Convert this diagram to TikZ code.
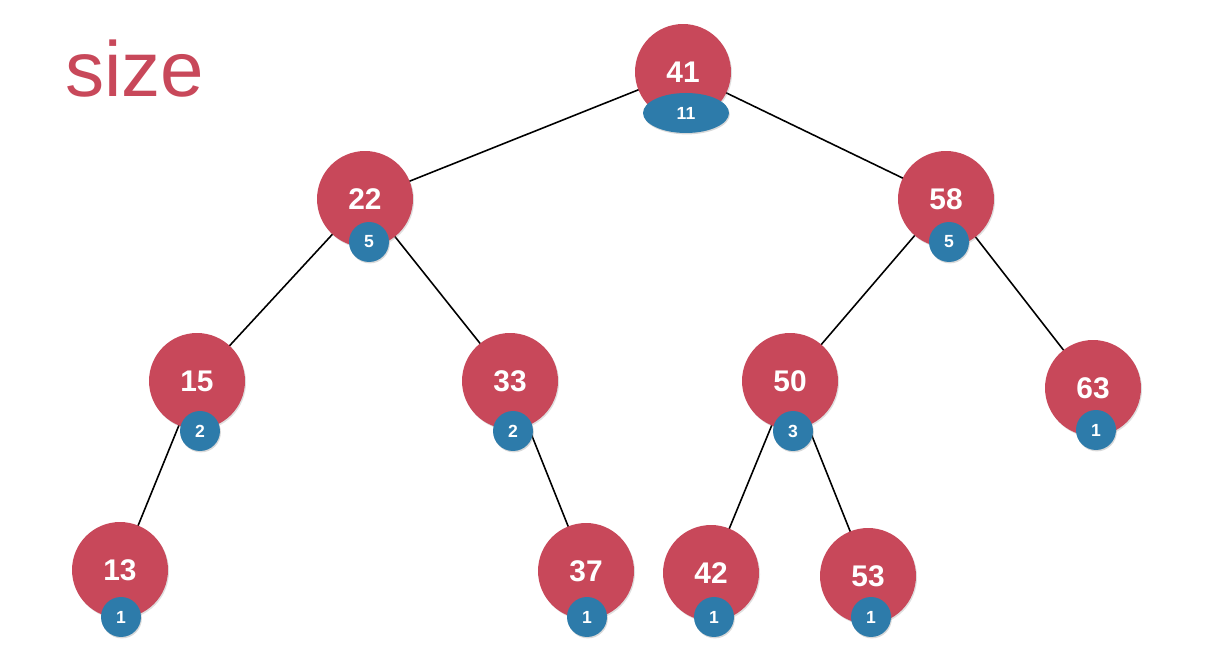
\documentclass[tikz,border=0pt]{standalone}
\usepackage{fontspec}
\setmainfont{Liberation Sans}
\usetikzlibrary{shapes.geometric,shadows,backgrounds}

\definecolor{keyred}{HTML}{C8485A}
\definecolor{sizeblue}{HTML}{2D7BAA}

\begin{document}
\begin{tikzpicture}[x=0.02cm,y=-0.02cm,
  link/.style={line width=0.9pt,black},
  key/.style={circle,fill=keyred,text=white,minimum size=1.92cm,inner sep=0pt,
    font=\fontsize{17}{20}\selectfont\bfseries,
    drop shadow={opacity=0.25,shadow xshift=0.6pt,shadow yshift=-0.8pt}},
  cnt/.style={circle,fill=sizeblue,text=white,minimum size=0.8cm,inner sep=0pt,
    font=\fontsize{10}{12}\selectfont\bfseries,
    drop shadow={opacity=0.3,shadow xshift=0.5pt,shadow yshift=-0.8pt}}]
  \useasboundingbox (0,0) rectangle (1214,665);

  % title
  \node[anchor=base west,inner sep=0pt,text=keyred,font=\fontsize{44.5}{52}\selectfont] (title) at (65,97) {size};

  % keys
  \node[key] (n41) at (683,72) {41};
  \node[key] (n22) at (365,199) {22};
  \node[key] (n58) at (946,199) {58};
  \node[key] (n15) at (197,381) {15};
  \node[key] (n33) at (510,381) {33};
  \node[key] (n50) at (790,381) {50};
  \node[key] (n63) at (1093,388) {63};
  \node[key] (n13) at (120,570) {13};
  \node[key] (n37) at (586,571) {37};
  \node[key] (n42) at (711,573) {42};
  \node[key] (n53) at (868,576) {53};

  % subtree sizes
  \node[cnt,ellipse,minimum width=1.72cm,minimum height=0.8cm] (s41) at (686,113) {11};
  \node[cnt] (s22) at (369,242) {5};
  \node[cnt] (s58) at (949,242) {5};
  \node[cnt] (s15) at (200,431) {2};
  \node[cnt] (s33) at (513,431) {2};
  \node[cnt] (s50) at (793,431) {3};
  \node[cnt] (s63) at (1096,430) {1};
  \node[cnt] (s13) at (121,617) {1};
  \node[cnt] (s37) at (587,617) {1};
  \node[cnt] (s42) at (714,617) {1};
  \node[cnt] (s53) at (871,617) {1};

  % links
  \begin{scope}[on background layer]
    \draw[link] (n41.center) -- (n22.center);
    \draw[link] (n41.center) -- (n58.center);
    \draw[link] (n22.center) -- (n15.center);
    \draw[link] (n22.center) -- (n33.center);
    \draw[link] (n58.center) -- (n50.center);
    \draw[link] (n58.center) -- (n63.center);
    \draw[link] (n15.center) -- (n13.center);
    \draw[link] (n33.center) -- (n37.center);
    \draw[link] (n50.center) -- (n42.center);
    \draw[link] (n50.center) -- (n53.center);
  \end{scope}
\end{tikzpicture}
\end{document}
